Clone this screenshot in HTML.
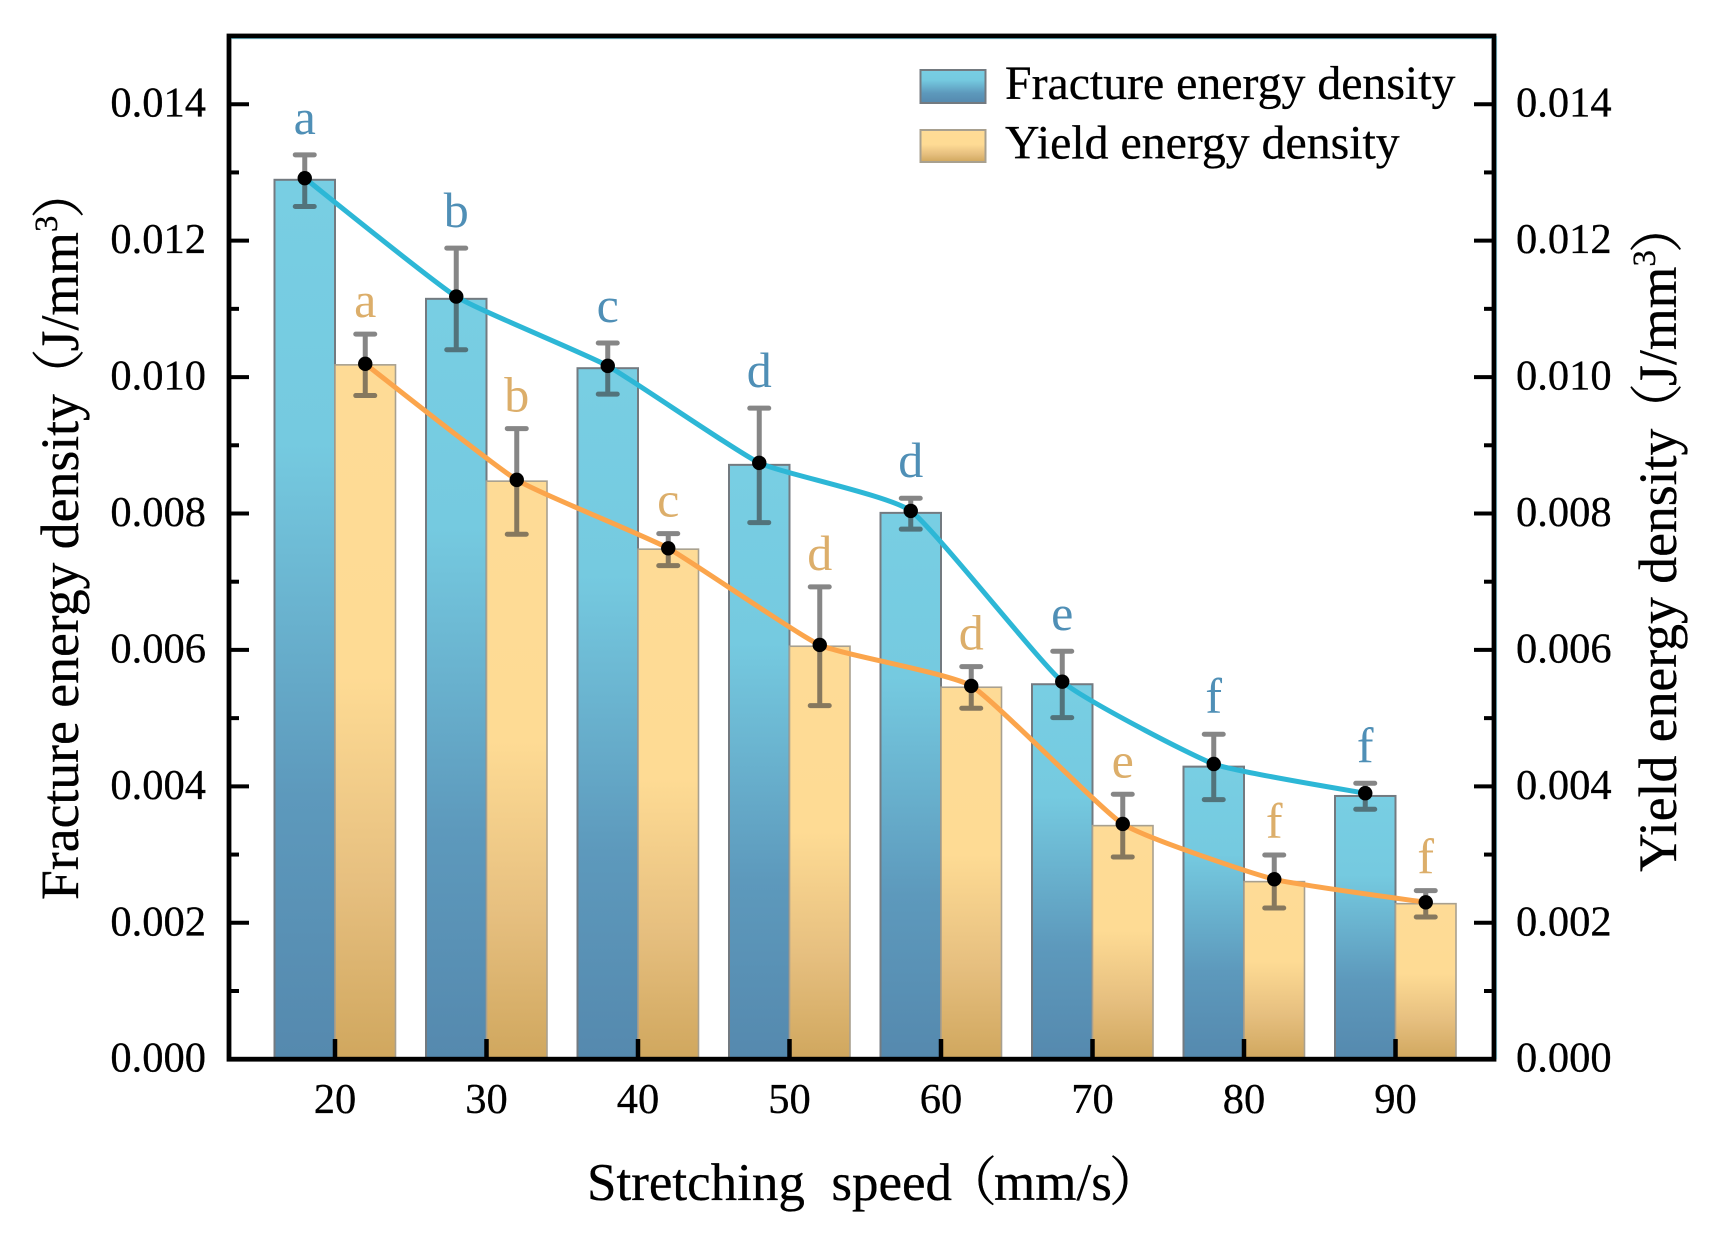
<!DOCTYPE html>
<html lang="en">
<head>
<meta charset="utf-8">
<title>Fracture and yield energy density vs stretching speed</title>
<style>
html,body{margin:0;padding:0;background:#fff;}
svg{display:block;}
text{font-family:"Liberation Serif","Noto Serif CJK SC",serif;fill:#000;white-space:pre;stroke:#000;stroke-width:0.3px;}
</style>
</head>
<body>
<svg id="chart" xmlns="http://www.w3.org/2000/svg" width="1718" height="1234" viewBox="0 0 1718 1234">
  <defs>
    <linearGradient id="blueGrad" x1="0" y1="0" x2="0" y2="1">
      <stop offset="0" stop-color="#78cee3"/>
      <stop offset="0.3" stop-color="#75cae0"/>
      <stop offset="0.7" stop-color="#5d99bc"/>
      <stop offset="1" stop-color="#5589ae"/>
    </linearGradient>
    <linearGradient id="yellowGrad" x1="0" y1="0" x2="0" y2="1">
      <stop offset="0" stop-color="#fedb96"/>
      <stop offset="0.45" stop-color="#fedb94"/>
      <stop offset="0.75" stop-color="#e6bf7f"/>
      <stop offset="1" stop-color="#d0a75e"/>
    </linearGradient>
  </defs>
  <rect x="0" y="0" width="1718" height="1234" fill="#fff"/>
  <g id="bars"></g>
  <g id="lines"></g>
  <g id="errors"></g>
  <g id="dots"></g>
  <g id="letters"></g>
  <g id="axes"></g>

  <g>
    <rect x="920.5" y="70" width="65" height="33" fill="url(#blueGrad)" stroke="#737a80" stroke-width="2"/>
    <text x="1005" y="99" font-size="47.8">Fracture energy density</text>
    <rect x="920.5" y="130" width="65" height="32" fill="url(#yellowGrad)" stroke="#a8a08f" stroke-width="2"/>
    <text x="1005" y="158.5" font-size="47.8">Yield energy density</text>
  </g>

  <text transform="translate(78 900) rotate(-90)" font-size="53.7">Fracture energy density<tspan dx="-8">（</tspan><tspan dx="-3">J/mm</tspan><tspan font-size="33" dy="-21">3</tspan><tspan dy="21" dx="-3">）</tspan></text>
  <text transform="translate(1676 872) rotate(-90)" font-size="53.7">Yield energy density<tspan dx="-8">（</tspan><tspan dx="-3">J/mm</tspan><tspan font-size="33" dy="-21">3</tspan><tspan dy="21" dx="-3">）</tspan></text>
  <text x="587" y="1200" font-size="53">Stretching  speed<tspan dx="-8">（</tspan><tspan dx="-3">mm/s</tspan><tspan dx="-3">）</tspan></text>
</svg>

<script>
const categories = [20, 30, 40, 50, 60, 70, 80, 90];
const fractureBars = [0.012892, 0.011147, 0.01013, 0.008713, 0.008009, 0.005497, 0.004289, 0.003859];
const fractureDots = [0.012916, 0.01118, 0.010164, 0.008742, 0.008038, 0.005535, 0.004328, 0.003899];
const fractureErrTop = [0.013258, 0.01189, 0.0105, 0.009544, 0.008224, 0.005981, 0.004764, 0.004045];
const fractureErrBottom = [0.0125, 0.0104, 0.00975, 0.007867, 0.00777, 0.005007, 0.003805, 0.003664];
const fractureLetters = ['a', 'b', 'c', 'd', 'd', 'e', 'f', 'f'];
const yieldBars = [0.010179, 0.008474, 0.007477, 0.006054, 0.005453, 0.003424, 0.002603, 0.00228];
const yieldDots = [0.010194, 0.008493, 0.00749, 0.006073, 0.005472, 0.003449, 0.002638, 0.0023];
const yieldErrTop = [0.010629, 0.009245, 0.007705, 0.006924, 0.005755, 0.003884, 0.002994, 0.002471];
const yieldErrBottom = [0.009729, 0.007696, 0.007236, 0.005183, 0.005145, 0.002965, 0.002217, 0.002085];
const yieldLetters = ['a', 'b', 'c', 'd', 'd', 'e', 'f', 'f'];
const yMajorTicks = [0, 0.002, 0.004, 0.006, 0.008, 0.01, 0.012, 0.014];
const yMajorLabels = ['0.000', '0.002', '0.004', '0.006', '0.008', '0.010', '0.012', '0.014'];
const yMinorTicks = [0.001, 0.003, 0.005, 0.007, 0.009, 0.011, 0.013];

const NS = 'http://www.w3.org/2000/svg';
const PLOT = {left: 229, right: 1494, top: 36, bottom: 1059.2};
const BAR_W = 60.5;
function yScale(v) { return PLOT.bottom - (v / 0.015) * (PLOT.bottom - 36); }
function xScale(c) { return 335 + ((c - 20) / 10) * 151.5; }
function mk(parent, tag, attrs) {
  const el = document.createElementNS(NS, tag);
  for (const k in attrs) el.setAttribute(k, attrs[k]);
  parent.appendChild(el);
  return el;
}
function smoothPath(pts) {
  let d = 'M' + pts[0][0] + ' ' + pts[0][1];
  const k = 14;
  for (let i = 0; i < pts.length - 1; i++) {
    const p0 = pts[Math.max(i - 1, 0)], p1 = pts[i], p2 = pts[i + 1], p3 = pts[Math.min(i + 2, pts.length - 1)];
    const c1x = p1[0] + (p2[0] - p0[0]) / k, c1y = p1[1] + (p2[1] - p0[1]) / k;
    const c2x = p2[0] - (p3[0] - p1[0]) / k, c2y = p2[1] - (p3[1] - p1[1]) / k;
    d += ' C' + c1x + ' ' + c1y + ' ' + c2x + ' ' + c2y + ' ' + p2[0] + ' ' + p2[1];
  }
  return d;
}

const gBars = document.getElementById('bars');
const gLines = document.getElementById('lines');
const gErrors = document.getElementById('errors');
const gDots = document.getElementById('dots');
const gLetters = document.getElementById('letters');
const gAxes = document.getElementById('axes');

function drawSeries(cfg) {
  const pts = [];
  categories.forEach(function (c, i) {
    const cx = xScale(c) + cfg.dir * BAR_W / 2;
    const x0 = cfg.dir < 0 ? xScale(c) - BAR_W : xScale(c);
    const top = yScale(cfg.bars[i]);
    const bar = mk(gBars, 'rect', {x: x0, y: top, width: BAR_W, height: PLOT.bottom - top, fill: cfg.fill, stroke: cfg.barStroke, 'stroke-width': cfg.barStrokeW});
    
    

    const yT = yScale(cfg.errTop[i]), yB = yScale(cfg.errBottom[i]);
    const err = mk(gErrors, 'path', {d: 'M' + cx + ' ' + yT + ' V' + yB + ' M' + (cx - 9.5) + ' ' + yT + ' H' + (cx + 9.5) + ' M' + (cx - 9.5) + ' ' + yB + ' H' + (cx + 9.5), fill: 'none', stroke: '#3c3c3c', 'stroke-opacity': 0.62, 'stroke-width': 5, 'stroke-linecap': 'round'});
    
    

    const dy = yScale(cfg.dots[i]);
    pts.push([cx, dy]);
    const dot = mk(gDots, 'circle', {cx: cx, cy: dy, r: 7.2, fill: '#000'});
    
    

    const letter = mk(gLetters, 'text', {x: cx, y: yT - cfg.letterGap, 'font-size': 50, 'text-anchor': 'middle'});
    letter.style.fill = cfg.letterColor;
    letter.style.stroke = 'none';
    letter.textContent = cfg.letters[i];
    
    
  });
  const line = mk(gLines, 'path', {d: smoothPath(pts), fill: 'none', stroke: cfg.lineColor, 'stroke-width': 5, 'stroke-linejoin': 'round'});
  
  
}

drawSeries({key: 'fracture', dir: -1, bars: fractureBars, dots: fractureDots, errTop: fractureErrTop, errBottom: fractureErrBottom, letters: fractureLetters, fill: 'url(#blueGrad)', barStroke: '#737a80', barStrokeW: 2, lineColor: '#2db7d6', letterColor: '#4f8fb6', letterGap: 21});
drawSeries({key: 'yield', dir: 1, bars: yieldBars, dots: yieldDots, errTop: yieldErrTop, errBottom: yieldErrBottom, letters: yieldLetters, fill: 'url(#yellowGrad)', barStroke: '#a8a08f', barStrokeW: 1.6, lineColor: '#fba54c', letterColor: '#dcae6a', letterGap: 17});

/* y axis ticks: both sides */
yMajorTicks.forEach(function (v, i) {
  const y = yScale(v);
  if (v > 0) {
    const tl = mk(gAxes, 'line', {x1: PLOT.left, x2: 249, y1: y, y2: y, stroke: '#000', 'stroke-width': 4});
    
    
    const tr = mk(gAxes, 'line', {x1: 1474, x2: PLOT.right, y1: y, y2: y, stroke: '#000', 'stroke-width': 4});
    
    
  }
  const ll = mk(gAxes, 'text', {x: 206, y: y + 12.5, 'font-size': 42.5, 'text-anchor': 'end'});
  ll.textContent = yMajorLabels[i];
  
  
  const rl = mk(gAxes, 'text', {x: 1516, y: y + 12.5, 'font-size': 42.5});
  rl.textContent = yMajorLabels[i];
  
  
});
yMinorTicks.forEach(function (v) {
  const y = yScale(v);
  const tl = mk(gAxes, 'line', {x1: PLOT.left, x2: 239, y1: y, y2: y, stroke: '#000', 'stroke-width': 4});
  
  
  const tr = mk(gAxes, 'line', {x1: 1484, x2: PLOT.right, y1: y, y2: y, stroke: '#000', 'stroke-width': 4});
  
  
});
/* x axis ticks */
categories.forEach(function (c) {
  const x = xScale(c);
  const t = mk(gAxes, 'line', {x1: x, x2: x, y1: 1039, y2: PLOT.bottom, stroke: '#000', 'stroke-width': 4.5});
  
  
  const l = mk(gAxes, 'text', {x: x, y: 1113, 'font-size': 42.5, 'text-anchor': 'middle'});
  l.textContent = String(c);
  
  
});
/* frame */
const frame = mk(gAxes, 'rect', {x: PLOT.left, y: PLOT.top, width: PLOT.right - PLOT.left, height: PLOT.bottom - PLOT.top, fill: 'none', stroke: '#000', 'stroke-width': 4.8});


const topEdge = mk(gAxes, 'line', {x1: PLOT.left + 2, x2: PLOT.right - 2, y1: PLOT.top + 2.6, y2: PLOT.top + 2.6, stroke: '#2a9ab5', 'stroke-width': 1, 'stroke-opacity': 0.6});


const rightEdge = mk(gAxes, 'line', {x1: PLOT.right + 2.6, x2: PLOT.right + 2.6, y1: PLOT.top, y2: PLOT.bottom, stroke: '#2a9ab5', 'stroke-width': 1, 'stroke-opacity': 0.5});


</script>
</body>
</html>
